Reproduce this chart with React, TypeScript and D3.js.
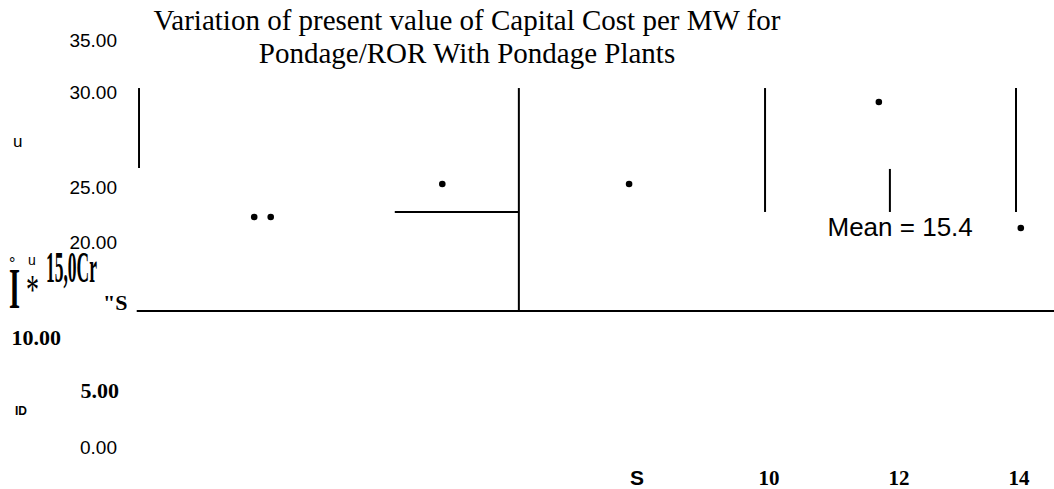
import React from "react";
import * as d3 from "d3";

// ---- data ----
const titleLines = [
  "Variation of present value of Capital Cost per MW for",
  "Pondage/ROR With Pondage Plants",
];
const yTickValues = [35, 30, 25, 20, 10, 5, 0];
const yTickLabels = ["35.00", "30.00", "25.00", "20.00", "10.00", "5.00", "0.00"];
const xTickValues = [8, 10, 12, 14];
const xTickLabels = ["S", "10", "12", "14"];
// scattered points (x, y)
const pointX = [2.2, 2.45, 5.05, 7.88, 11.69, 14.03];
const pointY = [22.27, 22.27, 25.16, 25.16, 29.47, 21.27];
// line segments [x1, y1, x2, y2]
const segments: [number, number, number, number][] = [
  [0.455, 26.0, 0.455, 30.38],
  [4.33, 22.73, 6.21, 22.73],
  [6.21, 12.74, 6.21, 30.38],
  [9.94, 22.73, 9.94, 30.38],
  [11.86, 22.73, 11.86, 25.95],
  [13.95, 22.73, 13.95, 30.38],
  [0.42, 12.74, 14.6, 12.74],
];
const meanLabel = "Mean = 15.4";
const meanPos = [10.9, 20.55];

// ---- styles (not data) ----
const W = 1054;
const H = 489;
const sans = "Liberation Sans, Arial, sans-serif";
const serif = "Liberation Serif, Times New Roman, serif";
const yTickStyle = [
  { font: sans, weight: 400, size: 19, x: 117 },
  { font: sans, weight: 400, size: 19, x: 117 },
  { font: sans, weight: 400, size: 19, x: 117 },
  { font: sans, weight: 400, size: 19, x: 117 },
  { font: serif, weight: 700, size: 22, x: 61 },
  { font: serif, weight: 700, size: 22, x: 119 },
  { font: sans, weight: 400, size: 19, x: 117 },
];
const xTickStyle = [
  { font: sans, weight: 700, size: 21 },
  { font: serif, weight: 700, size: 21 },
  { font: serif, weight: 700, size: 21 },
  { font: serif, weight: 700, size: 21 },
];

export default function App() {
  const y = d3
    .scaleLinear()
    .domain([0, 5, 10, 20, 25, 30, 35])
    .range([447, 390, 337, 242, 187, 92, 40]);
  const x = d3.scaleLinear().domain([8, 10, 12, 14]).range([637, 769, 899, 1019]);

  return (
    <svg
      width={W}
      height={H}
      style={{ position: "absolute", left: 0, top: 0, background: "#fff" }}
    >
      <rect width={W} height={H} fill="#fff" />
      {/* title */}
      {titleLines.map((t, i) => (
        <text
          key={i}
          x={467}
          y={30 + i * 33}
          textAnchor="middle"
          fontFamily={serif}
          fontSize={29}
          fill="#000"
        >
          {t}
        </text>
      ))}
      {/* y tick labels */}
      {yTickValues.map((v, i) => (
        <text
          key={"y" + i}
          x={yTickStyle[i].x}
          y={y(v)}
          dy="0.36em"
          textAnchor="end"
          fontFamily={yTickStyle[i].font}
          fontWeight={yTickStyle[i].weight}
          fontSize={yTickStyle[i].size}
          fill="#000"
        >
          {yTickLabels[i]}
        </text>
      ))}
      {/* x tick labels */}
      {xTickValues.map((v, i) => (
        <text
          key={"x" + i}
          x={x(v)}
          y={485}
          textAnchor="middle"
          fontFamily={xTickStyle[i].font}
          fontWeight={xTickStyle[i].weight}
          fontSize={xTickStyle[i].size}
          fill="#000"
        >
          {xTickLabels[i]}
        </text>
      ))}
      {/* garbled axis title fragments */}
      <text x={13} y={147} fontFamily={sans} fontSize={17} fill="#000">u</text>
      <text x={9} y={269} fontFamily={sans} fontSize={16} fill="#000">°</text>
      <text x={9} y={308} fontFamily={serif} fontWeight={700} fontSize={58} textLength={11} lengthAdjust="spacingAndGlyphs" fill="#000">I</text>
      <text x={28} y={265} fontFamily={sans} fontSize={14} fill="#000">u</text>
      <text x={26} y={304} fontFamily={serif} fontSize={42} textLength={13} lengthAdjust="spacingAndGlyphs" fill="#000">*</text>
      <text x={46} y={282} fontFamily={serif} fontWeight={700} fontSize={44} textLength={51} lengthAdjust="spacingAndGlyphs" fill="#000">15,0Cr</text>
      <text x={103} y={310} fontFamily={serif} fontWeight={700} fontSize={22} fill="#000">"S</text>
      <text x={15} y={415} fontFamily={sans} fontWeight={700} fontSize={12} fill="#000">ID</text>
      {/* segments */}
      {segments.map((s, i) => (
        <line
          key={"s" + i}
          x1={x(s[0])}
          y1={y(s[1])}
          x2={x(s[2])}
          y2={y(s[3])}
          stroke="#000"
          strokeWidth={2}
        />
      ))}
      {/* points */}
      {pointX.map((v, i) => (
        <circle key={"p" + i} cx={x(v)} cy={y(pointY[i])} r={3.3} fill="#000" />
      ))}
      {/* mean label */}
      <text
        x={x(meanPos[0])}
        y={y(meanPos[1])}
        fontFamily={sans}
        fontSize={26}
        fill="#000"
      >
        {meanLabel}
      </text>
    </svg>
  );
}
